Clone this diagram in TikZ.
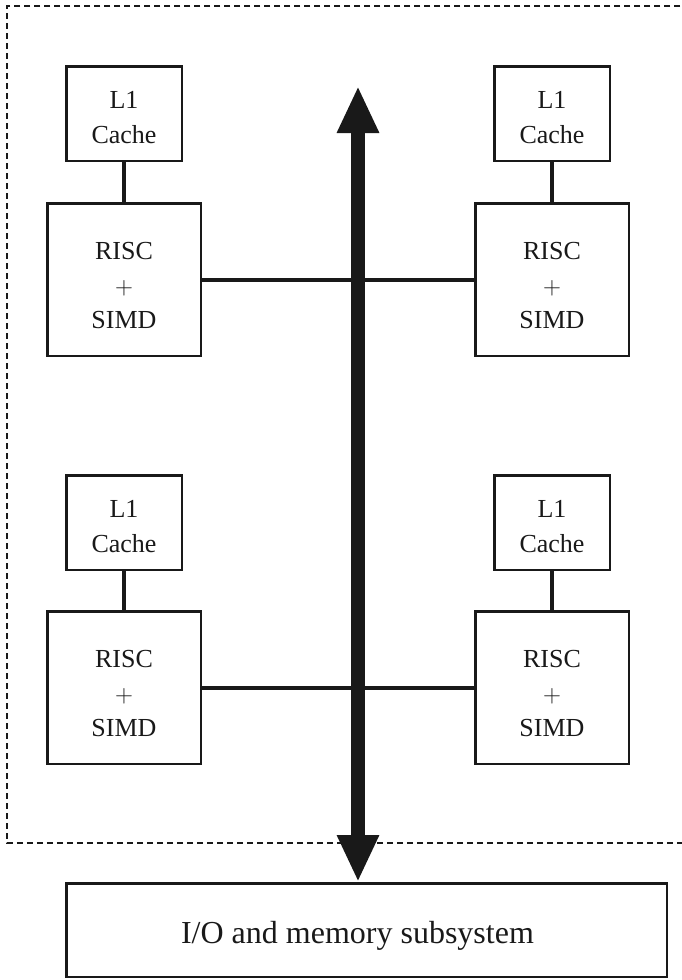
\documentclass[tikz,border=0pt]{standalone}
\usepackage{fontspec}
\setmainfont{Liberation Serif}
\usetikzlibrary{arrows.meta}
\definecolor{ink}{gray}{0.1}
\begin{document}
\begin{tikzpicture}[x=1pt,y=-1pt,
  unit/.style={draw=ink, text=ink, line width=2.5pt, inner sep=0pt, align=center,
    font=\fontsize{26}{34.5}\selectfont},
  cachebox/.style={unit, minimum width=115.5pt, minimum height=94.5pt},
  corebox/.style={unit, minimum width=153.5pt, minimum height=152.5pt},
  iobox/.style={draw=ink, text=ink, line width=2.5pt, inner sep=0pt,
    minimum width=600.5pt, minimum height=93.5pt,
    font=\fontsize{32}{38}\selectfont},
  link/.style={draw=ink, line width=4pt},
  bus/.style={draw=ink, fill=ink, line width=14pt,
    {Triangle[width=39pt,length=47pt]}-{Triangle[width=39pt,length=47pt]}},
  frame/.style={draw=ink, line width=2pt, dash pattern=on 6pt off 4pt}]

\useasboundingbox (0,0) rectangle (682,980);

% dashed chip boundary (open on the right)
\draw[frame] (700,6) -- (7,6) -- (7,843) -- (700,843);

% processing elements with their caches
\node[cachebox] (c1) at (124,113.5) {\rule{0pt}{25pt}L1\\Cache};
\node[corebox]  (p1) at (124,279.5) {\rule{0pt}{30pt}RISC\\$+$\\SIMD};
\node[cachebox] (c2) at (552,113.5) {\rule{0pt}{25pt}L1\\Cache};
\node[corebox]  (p2) at (552,279.5) {\rule{0pt}{30pt}RISC\\$+$\\SIMD};
\node[cachebox] (c3) at (124,522.5) {\rule{0pt}{25pt}L1\\Cache};
\node[corebox]  (p3) at (124,687.5) {\rule{0pt}{30pt}RISC\\$+$\\SIMD};
\node[cachebox] (c4) at (552,522.5) {\rule{0pt}{25pt}L1\\Cache};
\node[corebox]  (p4) at (552,687.5) {\rule{0pt}{30pt}RISC\\$+$\\SIMD};

\node[iobox] (io) at (366.5,930)
  {\hspace*{-18pt}\rule{0pt}{34pt}I/O and memory subsystem};

% cache links
\draw[link] (c1.south) -- (p1.north);
\draw[link] (c2.south) -- (p2.north);
\draw[link] (c3.south) -- (p3.north);
\draw[link] (c4.south) -- (p4.north);

% core-to-core links
\draw[link] (p1.east) -- (p2.west);
\draw[link] (p3.east) -- (p4.west);

% system bus
\coordinate (bustop) at (358,86);
\draw[bus] (bustop) -- (bustop |- io.north);
\end{tikzpicture}
\end{document}
